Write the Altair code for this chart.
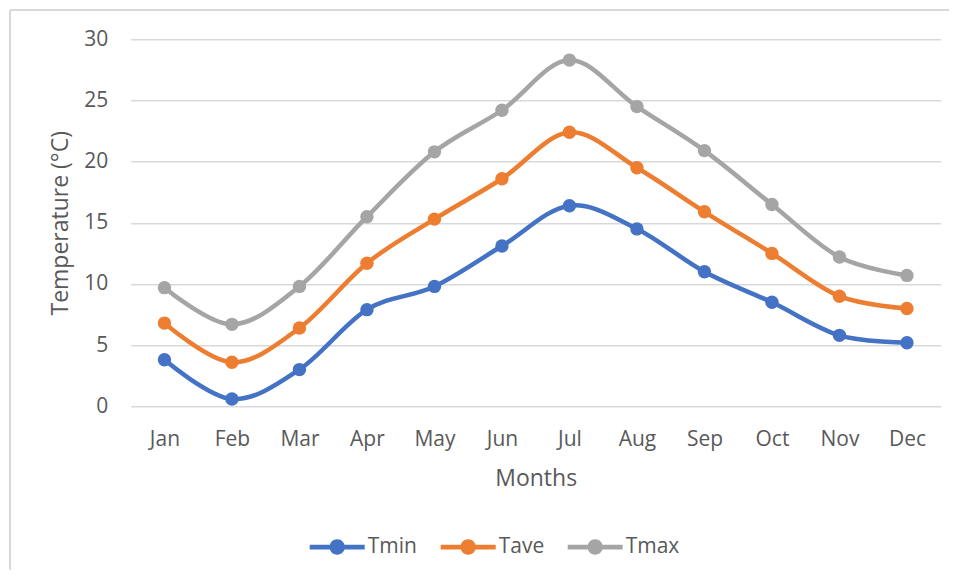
import altair as alt
import pandas as pd

months = ["Jan", "Feb", "Mar", "Apr", "May", "Jun", "Jul", "Aug", "Sep", "Oct", "Nov", "Dec"]
tmin = [3.8, 0.6, 3.0, 7.9, 9.8, 13.1, 16.4, 14.5, 11.0, 8.5, 5.8, 5.2]
tave = [6.8, 3.6, 6.4, 11.7, 15.3, 18.6, 22.4, 19.5, 15.9, 12.5, 9.0, 8.0]
tmax = [9.7, 6.7, 9.8, 15.5, 20.8, 24.2, 28.3, 24.5, 20.9, 16.5, 12.2, 10.7]
series = ["Tmin", "Tave", "Tmax"]
colors = ["#4472C4", "#ED7D31", "#A5A5A5"]
y_ticks = [0, 5, 10, 15, 20, 25, 30]

rows = []
for name, vals in zip(series, [tmin, tave, tmax]):
    for m, v in zip(months, vals):
        rows.append({"month": m, "series": name, "value": v})
df = pd.DataFrame(rows)

FONT = "Open Sans"
TXT = "#595959"
GRID = "#d9d9d9"

# line + dot legend glyph (both subpaths wound the same way)
legend_symbol = (
    "M-1,-0.085L1,-0.085L1,0.085L-1,0.085Z "
    "M-0.28,0A0.28,0.28,0,1,1,0.28,0A0.28,0.28,0,1,1,-0.28,0Z"
)

x_enc = alt.X(
    "month:N",
    sort=months,
    scale=alt.Scale(type="point", padding=0.5),
    axis=alt.Axis(
        title="Months",
        labelAngle=0,
        labelFontSize=21,
        labelFont=FONT,
        labelColor=TXT,
        labelPadding=22,
        ticks=False,
        domain=False,
        grid=False,
        titleFont=FONT,
        titleFontSize=23,
        titleFontWeight="normal",
        titleColor=TXT,
        titlePadding=18,
    ),
)
y_enc = alt.Y(
    "value:Q",
    scale=alt.Scale(domain=[0, 30], nice=False, zero=True),
    axis=alt.Axis(
        title="Temperature (°C)",
        values=y_ticks,
        labelFontSize=21,
        labelFont=FONT,
        labelColor=TXT,
        labelPadding=23,
        ticks=False,
        domain=False,
        grid=True,
        gridColor=GRID,
        gridWidth=1.4,
        titleFont=FONT,
        titleFontSize=23,
        titleFontWeight="normal",
        titleColor=TXT,
        titlePadding=11,
    ),
)

color_scale = alt.Scale(domain=series, range=colors)

points = alt.Chart(df).mark_point(filled=True, opacity=1, size=180).encode(
    x=x_enc,
    y=y_enc,
    color=alt.Color(
        "series:N",
        scale=color_scale,
        sort=series,
        legend=alt.Legend(
            title=None,
            orient="none",
            legendX=179,
            legendY=480,
            direction="horizontal",
            symbolType=legend_symbol,
            symbolSize=3025,
            symbolStrokeWidth=0,
            symbolOpacity=1,
            labelFont=FONT,
            labelFontSize=21,
            labelColor=TXT,
            labelOffset=3,
            columnPadding=23,
            padding=0,
        ),
    ),
)

lines = alt.Chart(df).mark_line(interpolate="cardinal", strokeWidth=4.5, strokeCap="round").encode(
    x=x_enc,
    y=y_enc,
    color=alt.Color("series:N", scale=color_scale, sort=series, legend=None),
    detail="series:N",
)

border_left = alt.Chart(df).mark_rule(color=GRID, strokeWidth=1.5).encode(
    x=alt.value(-120.7), y=alt.value(-29.3), y2=alt.value(700)
)
border_top = alt.Chart(df).mark_rule(color=GRID, strokeWidth=1.5).encode(
    x=alt.value(-120.7), x2=alt.value(1000), y=alt.value(-29.3)
)

chart = (
    alt.layer(border_left, border_top, lines, points)
    .resolve_legend(color="independent")
    .properties(
        width=810,
        height=367,
        autosize=alt.AutoSizeParams(type="none"),
        padding={"left": 122.7, "top": 31.3, "right": 8, "bottom": 164},
        background="white",
    )
    .configure_view(stroke=None)
)

chart.save("out.html", embed_options={"renderer": "svg", "actions": False})
